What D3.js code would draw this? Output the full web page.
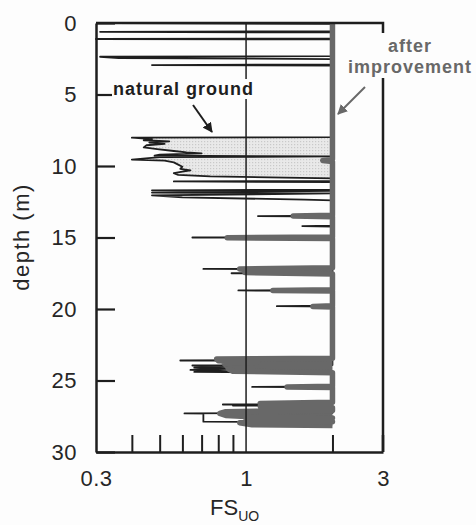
<!DOCTYPE html>
<html><head><meta charset="utf-8">
<script src="https://cdn.jsdelivr.net/npm/d3@7/dist/d3.min.js"></script>
<style>body{margin:0;background:#fff}svg{display:block}</style>
</head><body>
<svg id="c" width="476" height="525"></svg>
<script>
// ---- data ----
const depthTicks = [0, 5, 10, 15, 20, 25, 30];
const fsLabelTicks = [0.3, 1, 3];
const fsMinorTicks = [0.4, 0.5, 0.6, 0.7, 0.8, 0.9, 2];

// natural ground FS profile (depth m, FS)
const ngDepth = [0.00,0.06,0.58,0.62,0.66,1.09,1.12,1.15,2.32,2.36,2.45,2.52,2.90,2.94,2.98,
  7.98,8.02,8.12,8.20,8.28,8.36,8.45,8.55,8.70,8.82,8.95,9.05,9.12,9.20,9.28,9.33,9.38,9.55,9.62,9.75,9.90,
  10.05,10.20,10.30,10.40,10.50,10.62,10.72,10.80,10.87,11.04,11.08,11.12,11.66,11.70,11.74,11.86,11.92,12.05,12.20,12.35,12.40,
  13.47,13.50,13.53,14.17,14.20,14.23,14.97,15.00,15.03,17.17,17.20,17.23,17.47,17.50,17.53,18.67,18.70,18.73,19.77,19.80,19.83,
  23.57,23.60,23.63,23.92,23.95,24.02,24.10,24.18,24.26,24.34,24.40,24.45,25.42,25.45,25.48,
  26.65,26.68,26.72,26.75,26.78,27.27,27.30,27.32,27.88,27.90,27.93];
const ngFS = [0.35,2.0,2.0,0.31,2.0,2.0,0.30,2.0,2.0,0.31,0.36,2.0,2.0,0.47,2.0,
  2.0,0.40,0.47,0.44,0.54,0.46,0.52,0.45,0.44,0.49,0.56,0.62,0.70,0.50,0.48,2.0,0.50,0.40,0.52,0.56,0.58,
  0.60,0.59,0.64,0.60,0.56,0.58,0.75,1.20,2.0,2.0,0.56,2.0,2.0,0.47,2.0,0.47,2.0,0.47,0.60,1.60,2.0,
  2.0,1.10,2.0,2.0,1.57,2.0,2.0,0.65,2.0,2.0,0.71,2.0,2.0,0.89,2.0,2.0,0.94,2.0,2.0,1.28,2.0,
  2.0,0.59,2.0,2.0,0.65,0.86,0.66,0.86,0.64,0.86,0.66,2.0,2.0,1.05,2.0,
  2.0,0.83,2.0,0.90,2.0,2.0,0.61,0.71,0.71,1.00,2.0];

// after improvement FS profile (depth m, FS)
const aiDepth = [0.00,9.55,9.62,9.69,13.45,13.50,13.55,14.97,15.02,15.07,17.12,17.20,17.32,17.45,17.55,
  18.66,18.70,18.74,19.78,19.82,19.86,23.45,23.50,23.62,23.72,23.82,24.00,24.20,24.35,24.45,
  25.41,25.45,25.49,26.52,26.60,26.70,26.82,26.90,27.10,27.18,27.30,27.45,27.55,27.62,27.70,27.80,27.88,27.95,28.10,28.15];
const aiFS = [2.0,2.0,1.85,2.0,2.0,1.46,2.0,2.0,0.86,2.0,2.0,0.95,1.15,0.99,2.0,
  2.0,1.24,2.0,2.0,1.71,2.0,2.0,0.79,0.80,1.10,0.84,0.86,0.87,0.90,2.0,
  2.0,1.39,2.0,2.0,1.12,1.25,1.12,2.0,2.0,0.85,0.81,0.85,1.10,2.0,1.00,1.60,2.0,0.95,1.05,2.0];

const shadeRange = [8.0, 10.9];

// ---- layout ----
const svg = d3.select("#c");
const x = d3.scaleLog().domain([0.3, 3]).range([96, 383]);
const y = d3.scaleLinear().domain([0, 30]).range([23, 452]);
const ink = "#1e1e1e", gray = "#686868", bg = "#fdfdfd";

svg.append("rect").attr("width",476).attr("height",525).attr("fill",bg);

const defs = svg.append("defs");
const pat = defs.append("pattern").attr("id","dots").attr("width",3).attr("height",3).attr("patternUnits","userSpaceOnUse");
pat.append("rect").attr("width",3).attr("height",3).attr("fill","#e9e9e9");
pat.append("rect").attr("width",1.2).attr("height",1.2).attr("fill","#c9c9c9");
function marker(id, col){
  defs.append("marker").attr("id",id).attr("viewBox","0 0 10 10").attr("refX",9).attr("refY",5)
    .attr("markerWidth",5).attr("markerHeight",5).attr("orient","auto")
    .append("path").attr("d","M0,0L10,5L0,10z").attr("fill",col);
}
marker("ab", ink); marker("ag", gray);

const ng = ngDepth.map((d,i)=>({d, fs: ngFS[i]}));
const ai = aiDepth.map((d,i)=>({d, fs: aiFS[i]}));

// shaded zone between natural ground and after improvement
const shade = ng.filter(p => p.d >= shadeRange[0] && p.d <= shadeRange[1]);
svg.append("path").datum(shade)
  .attr("d", d3.area().y(p=>y(p.d)).x0(p=>x(p.fs)).x1(x(2)))
  .attr("fill","url(#dots)");

const line = d3.line().x(p=>x(p.fs)).y(p=>y(p.d));
svg.append("path").datum(ng).attr("d",line).attr("fill","none")
  .attr("stroke",ink).attr("stroke-width",1.8).attr("stroke-linejoin","round");
svg.append("path").datum(ai)
  .attr("d", d3.area().y(p=>y(p.d)).x0(p=>x(p.fs)).x1(x(2)))
  .attr("fill",gray);
svg.append("path").datum(ai).attr("d",line).attr("fill","none")
  .attr("stroke",gray).attr("stroke-width",5.5).attr("stroke-linejoin","round");

// FS = 1 reference line
svg.append("line").attr("x1",x(1)).attr("x2",x(1)).attr("y1",y(0)).attr("y2",y(30))
  .attr("stroke",ink).attr("stroke-width",1.5);

// frame (top and right, right broken by label)
const fr = svg.append("g").attr("stroke",ink).attr("stroke-width",2.5).attr("fill","none");
fr.append("path").attr("d",`M${x(0.3)},${y(0)}H${x(3)}V${y(0.7)}`);
fr.append("path").attr("d",`M${x(3)},${y(3.85)}V${y(30)}`);

// axes
const fontF = "'Liberation Sans', Arial, sans-serif";
const yAxis = d3.axisLeft(y).tickValues(depthTicks).tickSizeInner(-19).tickSizeOuter(0).tickPadding(19);
const gy = svg.append("g").attr("transform",`translate(${x(0.3)},0)`).call(yAxis);
gy.select(".domain").attr("stroke",ink).attr("stroke-width",2.5);
gy.selectAll(".tick line").attr("stroke",ink).attr("stroke-width",2.2);
gy.selectAll(".tick text").attr("font-family",fontF).attr("font-size",22).attr("fill","#262626").attr("letter-spacing",0.5);

const xAxis = d3.axisBottom(x).tickValues(fsLabelTicks).tickFormat(d3.format("~g")).tickSizeInner(0).tickSizeOuter(0).tickPadding(18);
const gx = svg.append("g").attr("transform",`translate(0,${y(30)})`).call(xAxis);
gx.select(".domain").attr("stroke",ink).attr("stroke-width",2.5);
gx.selectAll(".tick text").attr("font-family",fontF).attr("font-size",22).attr("fill","#262626").attr("letter-spacing",0.5);
const xMinor = d3.axisBottom(x).tickValues(fsMinorTicks).tickFormat("").tickSizeInner(-17).tickSizeOuter(0);
const gm = svg.append("g").attr("transform",`translate(0,${y(30)})`).call(xMinor);
gm.select(".domain").remove();
gm.selectAll(".tick line").attr("stroke",ink).attr("stroke-width",2);
svg.append("line").attr("x1",x(3)).attr("x2",x(3)).attr("y1",y(30)).attr("y2",y(30)-17).attr("stroke",ink).attr("stroke-width",2.5);

// axis titles
svg.append("text").attr("transform","translate(29,237) rotate(-90)").attr("text-anchor","middle")
  .attr("font-family",fontF).attr("font-size",22).attr("letter-spacing",1.5).attr("fill","#262626").text("depth (m)");
const ft = svg.append("text").attr("x",210).attr("y",515).attr("font-family",fontF).attr("font-size",22).attr("fill","#262626");
ft.append("tspan").text("FS");
ft.append("tspan").attr("dy",6).attr("font-size",14).text("UO");

// natural ground label with white background
const nglG = svg.append("g");
const nglBg = nglG.append("rect").attr("fill",bg);
const ngl = nglG.append("text").attr("x",113).attr("y",95).attr("font-family",fontF).attr("font-weight","bold")
  .attr("font-size",18).attr("letter-spacing",1).attr("fill",ink).text("natural ground");
const bb = ngl.node().getBBox();
nglBg.attr("x",bb.x-1).attr("y",bb.y).attr("width",bb.width+2).attr("height",bb.height);
svg.append("line").attr("x1",193).attr("y1",105).attr("x2",212).attr("y2",132)
  .attr("stroke",ink).attr("stroke-width",2).attr("marker-end","url(#ab)");

// after improvement label
const al = svg.append("text").attr("font-family",fontF).attr("font-weight","bold").attr("font-size",18)
  .attr("letter-spacing",1).attr("fill",gray).attr("text-anchor","middle");
al.append("tspan").attr("x",410).attr("y",52).text("after");
al.append("tspan").attr("x",410).attr("y",73).text("improvement");
svg.append("line").attr("x1",365).attr("y1",87).attr("x2",338).attr("y2",114)
  .attr("stroke",gray).attr("stroke-width",2).attr("marker-end","url(#ag)");
</script>
</body></html>
